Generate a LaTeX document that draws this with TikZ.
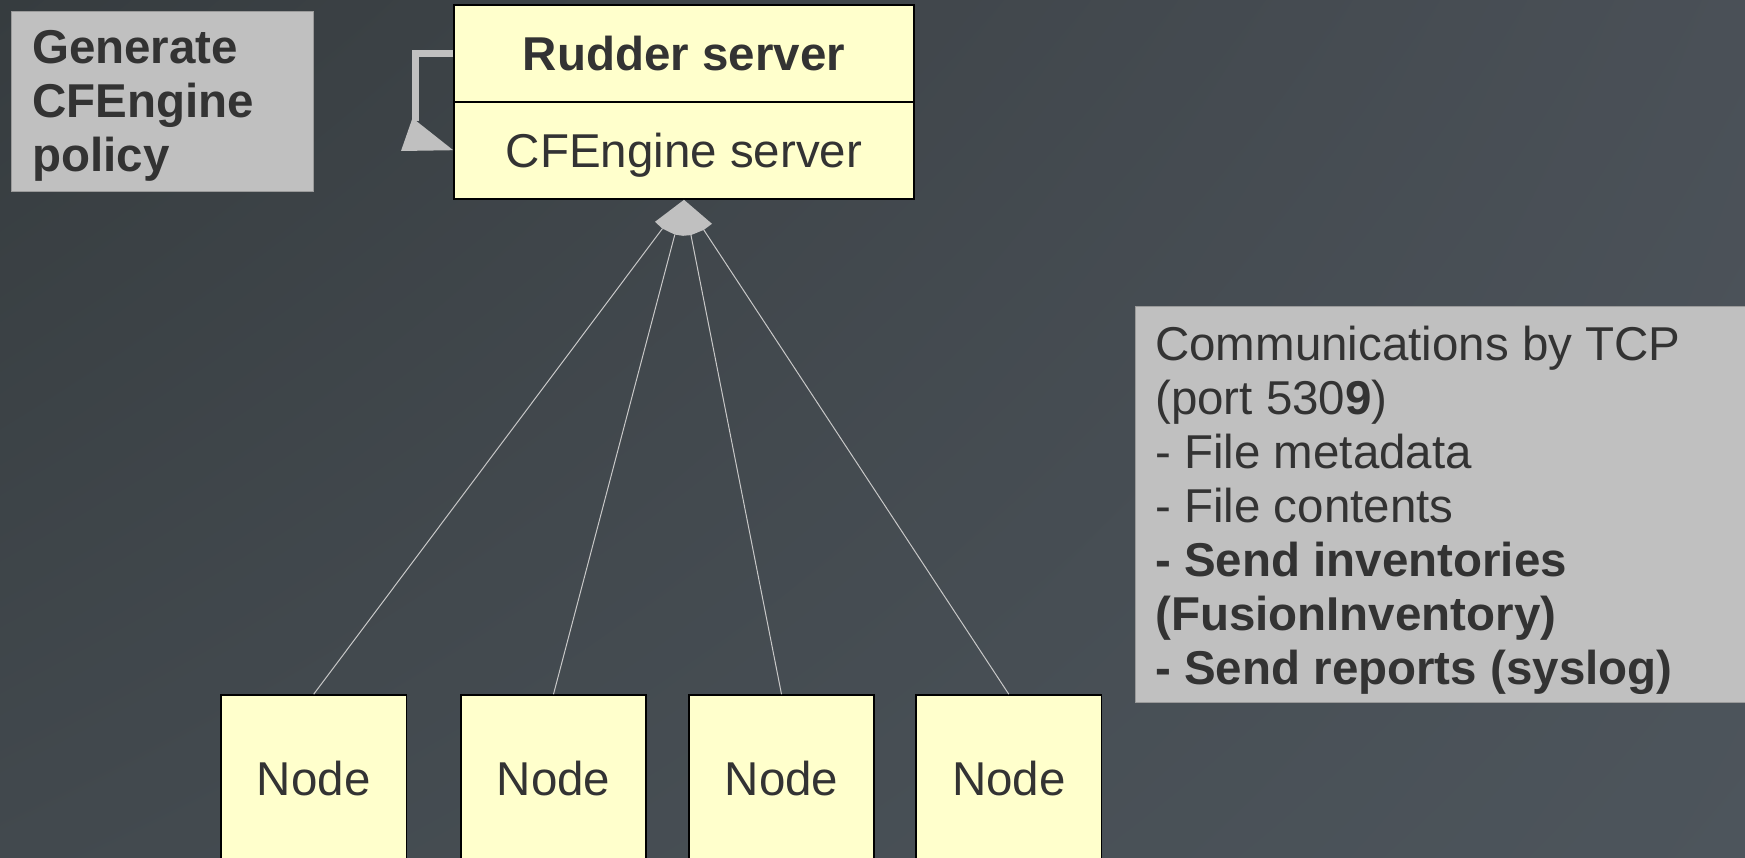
\documentclass[tikz,border=0pt]{standalone}
\usepackage{fontspec}
\setmainfont{Liberation Sans}
\usetikzlibrary{calc,shadings}
\definecolor{bgTL}{HTML}{363C3F}
\definecolor{bgTR}{HTML}{4A5057}
\definecolor{bgBL}{HTML}{42494E}
\definecolor{bgBR}{HTML}{4D555C}
\definecolor{ylw}{HTML}{FFFFCC}
\definecolor{grayfill}{HTML}{C0C0C0}
\definecolor{grayedge}{HTML}{9A9A9A}
\definecolor{txtcol}{HTML}{333333}
\definecolor{conncol}{HTML}{C8C8C8}
\begin{document}
\begin{tikzpicture}[x=1pt,y=-1pt,
  bigfont/.style={font=\fontsize{47.5}{54}\selectfont},
  ybox/.style={draw=black, line width=1.6pt, fill=ylw, text=txtcol, bigfont, inner sep=0pt, text height=34pt, text depth=0pt},
  graybox/.style={draw=grayedge, line width=1pt, fill=grayfill, inner sep=0pt},
  txt/.style={bigfont, text=txtcol, inner sep=0pt, align=left},
  conn/.style={draw=conncol, line width=1pt},
  loopline/.style={draw=grayfill, line width=7pt},
  loopfill/.style={fill=grayfill}]
\useasboundingbox (0,0) rectangle (1745,858);
\clip (0,0) rectangle (1745,858);
\shade[upper left=bgTL, upper right=bgTR, lower left=bgBL, lower right=bgBR] (0,0) rectangle (1745,858);

% Generate box
\node[graybox, anchor=north west, minimum width=302pt, minimum height=180pt] (gen) at (11,11) {};
\node[txt, anchor=north west] (gentext) at (32,23.3) {\rule{0pt}{40pt}\textbf{Generate}\\\textbf{CFEngine}\\\textbf{policy}};

% Rudder server
\node[ybox, minimum width=460pt, minimum height=97pt, font=\fontsize{47.5}{54}\selectfont\bfseries] (rudder) at (684,53.3) {Rudder server};
\node[ybox, minimum width=460pt, minimum height=97pt] (cfe) at (684,150.5) {CFEngine server};

% self loop
\path (cfe.north west) ++(0,49) coordinate (tip);
\draw[loopline] (rudder.west) -- ++(-38,0) coordinate (lc) -- ++(0,68);
\fill[loopfill] (412.5,118) -- (401,151) -- (tip) -- cycle;

% Nodes
\node[ybox, minimum width=185.5pt, minimum height=166pt] (n1) at (313.7,778) {Node};
\node[ybox, minimum width=185.5pt, minimum height=166pt] (n2) at (553.5,778) {Node};
\node[ybox, minimum width=185.5pt, minimum height=166pt] (n3) at (781.5,778) {Node};
\node[ybox, minimum width=185.5pt, minimum height=166pt] (n4) at (1008.8,778) {Node};

% connectors
\coordinate (apex) at (cfe.south);
\coordinate (s1) at ($(apex)!36pt!(n1.north)$);
\coordinate (s2) at ($(apex)!36pt!(n2.north)$);
\coordinate (s3) at ($(apex)!36pt!(n3.north)$);
\coordinate (s4) at ($(apex)!36pt!(n4.north)$);
\draw[conn] (s1) -- (n1.north);
\draw[conn] (s2) -- (n2.north);
\draw[conn] (s3) -- (n3.north);
\draw[conn] (s4) -- (n4.north);
\fill[grayfill] (apex) -- ($(apex)+(-29,22)$) -- (s1) -- (s2) -- ($(apex)+(-1,36)$) -- (s3) -- (s4) -- ($(apex)+(28,24)$) -- cycle;

% Communications box
\node[graybox, anchor=north west, minimum width=700pt, minimum height=396pt] (comm) at (1135,306) {};
\node[txt, anchor=north west] (commtext) at (1155,320) {\rule{0pt}{40pt}Communications by TCP\\(port 530\textbf{9})\\- File metadata\\- File contents\\\textbf{- Send inventories}\\\textbf{(FusionInventory)}\\\textbf{- Send reports (syslog)}};
\end{tikzpicture}
\end{document}
